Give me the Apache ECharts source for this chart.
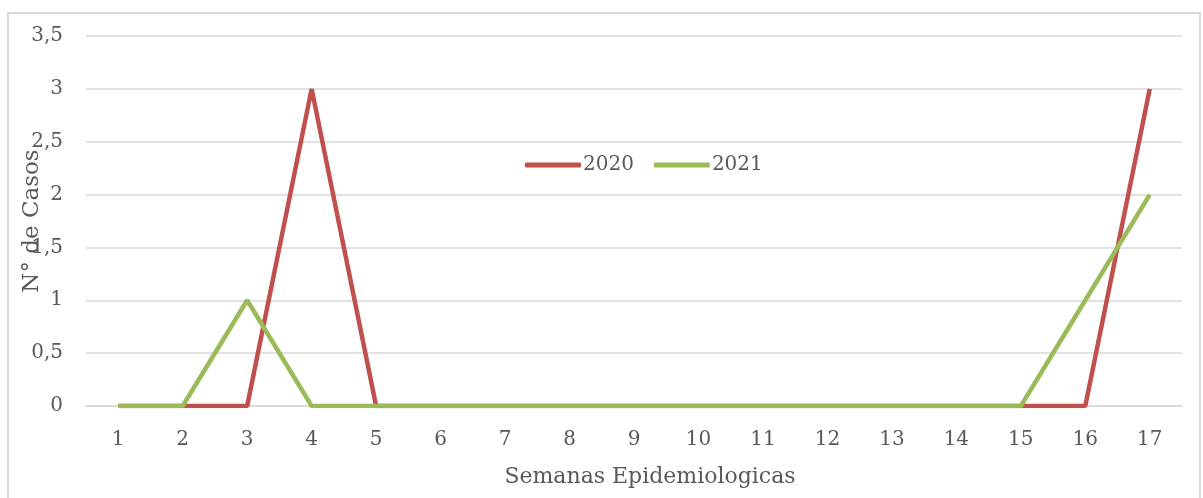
<!DOCTYPE html>
<html>
<head>
<meta charset="utf-8">
<script src="https://cdn.jsdelivr.net/npm/echarts@6/dist/echarts.min.js"></script>
<style>
html,body{margin:0;padding:0;background:#fff;}
#chart{width:1203px;height:498px;}
</style>
</head>
<body>
<div id="chart"></div>
<script>
// semanas epidemiologicas
const semanas = ['1','2','3','4','5','6','7','8','9','10','11','12','13','14','15','16','17'];
const casos2020 = [0,0,0,3,0,0,0,0,0,0,0,0,0,0,0,0,3];
const casos2021 = [0,0,1,0,0,0,0,0,0,0,0,0,0,0,0,1,2];

const fuente = 'DejaVu Serif';
const gris = '#595959';

let myChart = echarts.init(document.getElementById('chart'));
let option = {
	animation: false,
	color: ['#C0504D', '#9BBB59'],
	graphic: [{
		type: 'rect',
		shape: {x: 8, y: 13, width: 1192, height: 500},
		style: {fill: 'none', stroke: '#d9d9d9', lineWidth: 2},
		silent: true
	}],
	legend: {
		left: 520,
		top: 150,
		icon: 'roundRect',
		itemWidth: 56,
		itemHeight: 5,
		itemGap: 20,
		textStyle: {fontFamily: fuente, fontSize: 20, color: gris, padding: [0, 0, 0, -3]},
		data: ['2020', '2021']
	},
	grid: {left: 86, right: 21, top: 36, bottom: 92, outerBoundsMode: 'none'},
	xAxis: {
		type: 'category',
		data: semanas,
		boundaryGap: true,
		name: 'Semanas Epidemiologicas',
		nameLocation: 'middle',
		nameGap: 60,
		nameMoveOverlap: false,
		nameTextStyle: {fontFamily: fuente, fontSize: 22, color: gris, padding: [0, 0, 0, 32]},
		axisLine: {show: true, lineStyle: {color: '#d9d9d9', width: 1.5}},
		axisTick: {show: false},
		axisLabel: {fontFamily: fuente, fontSize: 20, color: gris, margin: 24}
	},
	yAxis: {
		type: 'value',
		min: 0,
		max: 3.5,
		interval: 0.5,
		name: 'N° de Casos',
		nameLocation: 'middle',
		nameGap: 42,
		nameMoveOverlap: false,
		nameTextStyle: {fontFamily: fuente, fontSize: 23, color: gris},
		axisLine: {show: false},
		axisTick: {show: false},
		splitLine: {lineStyle: {color: '#d9d9d9', width: 1.5}},
		axisLabel: {
			fontFamily: fuente, fontSize: 20, color: gris, margin: 23,
			formatter: (v) => String(v).replace('.', ',')
		}
	},
	series: [
		{name: '2020', type: 'line', data: casos2020, showSymbol: false, lineStyle: {width: 4.5}},
		{name: '2021', type: 'line', data: casos2021, showSymbol: false, lineStyle: {width: 4.5}}
	]
};
myChart.setOption(option);
</script>
</body>
</html>
